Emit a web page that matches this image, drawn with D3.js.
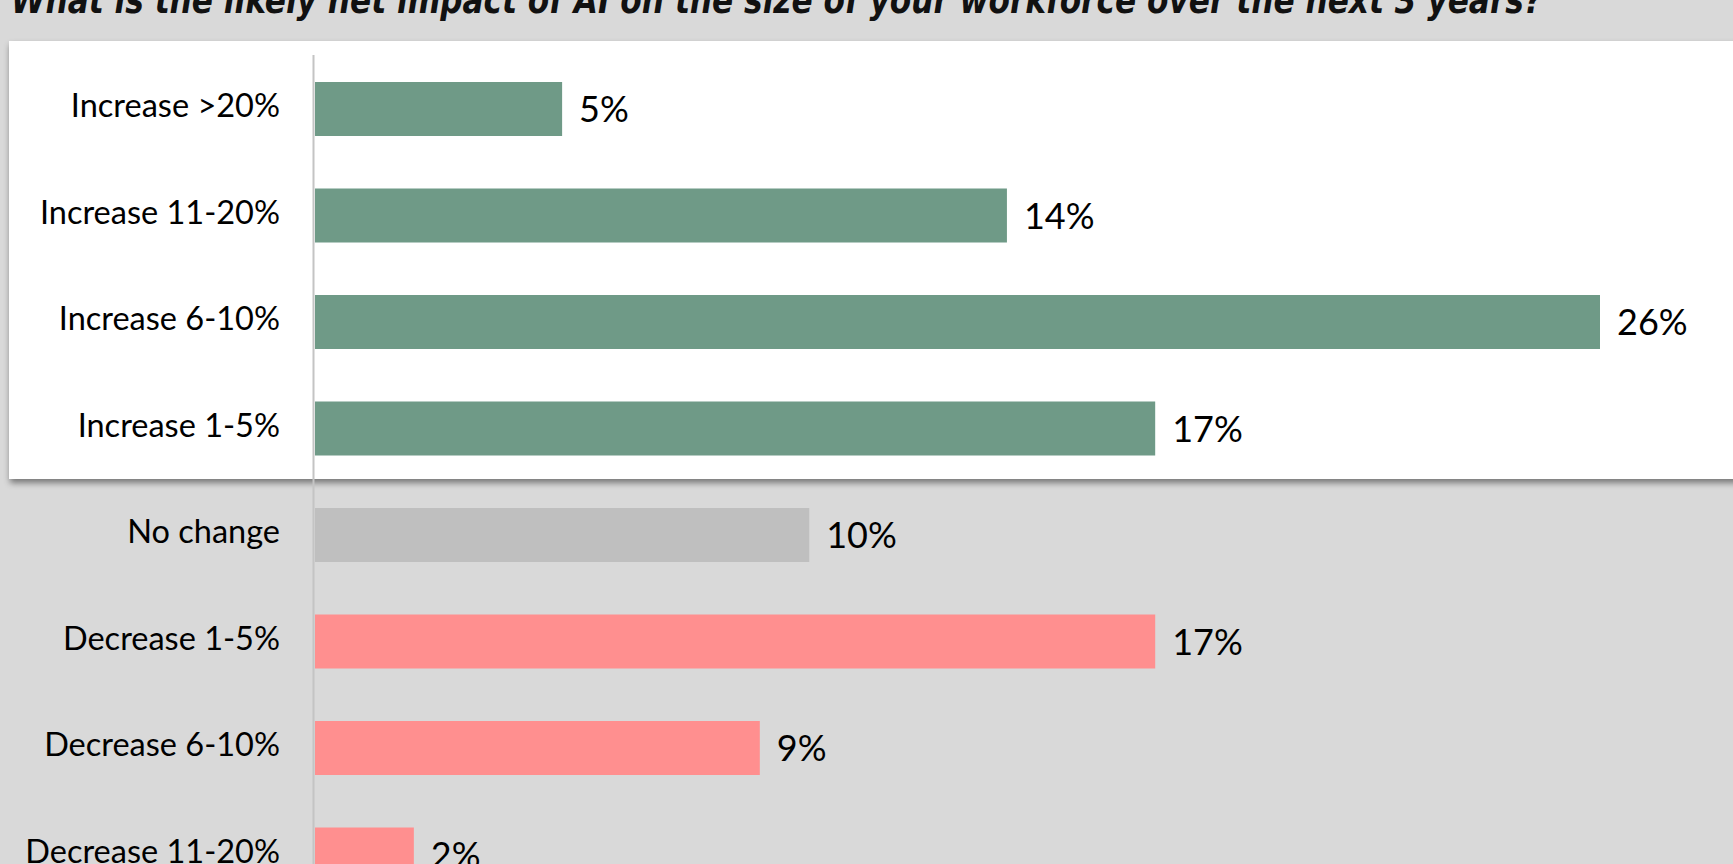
<!DOCTYPE html>
<html>
<head>
<meta charset="utf-8">
<script src="https://cdn.jsdelivr.net/npm/d3@7"></script>
<style>
  html, body { margin: 0; padding: 0; background: #D9D9D9; overflow: hidden; }
  svg { display: block; }
</style>
</head>
<body>
<svg id="chart" width="1733" height="864"></svg>
<script>
const titleText = "What is the likely net impact of AI on the size of your workforce over the next 3 years?";
const categories = ["Increase >20%", "Increase 11-20%", "Increase 6-10%", "Increase 1-5%",
                    "No change", "Decrease 1-5%", "Decrease 6-10%", "Decrease 11-20%"];
const values = [5, 14, 26, 17, 10, 17, 9, 2];
const groups = ["inc", "inc", "inc", "inc", "none", "dec", "dec", "dec"];

const colors = { inc: "#6F9A87", none: "#BFBFBF", dec: "#FF8F8F" };

const W = 1733, H = 864;
const svg = d3.select("#chart");

const defs = svg.append("defs");
const f = defs.append("filter").attr("id", "shadow")
  .attr("x", "-5%").attr("y", "-5%").attr("width", "110%").attr("height", "120%");
f.append("feDropShadow").attr("dx", 1).attr("dy", 4).attr("stdDeviation", 3)
  .attr("flood-color", "#000").attr("flood-opacity", 0.45);

// background
svg.append("rect").attr("x", 0).attr("y", 0).attr("width", W).attr("height", H).attr("fill", "#D9D9D9");

// white highlight box behind the increase rows
svg.append("rect").attr("x", 9).attr("y", 41).attr("width", W + 20).attr("height", 438)
  .attr("fill", "#FFFFFF").attr("filter", "url(#shadow)");

// title
svg.append("text")
  .attr("x", 11).attr("y", 13)
  .attr("textLength", 1531).attr("lengthAdjust", "spacingAndGlyphs")
  .style("font-family", "'DejaVu Sans Condensed', 'DejaVu Sans', sans-serif")
  .style("font-stretch", "condensed")
  .style("font-weight", "bold").style("font-style", "italic")
  .style("font-size", "38px").attr("fill", "#111")
  .text(titleText);

const step = 106.5;
const firstCenter = 109;
const y = d3.scaleBand().domain(categories)
  .range([firstCenter - step / 2, firstCenter - step / 2 + step * categories.length])
  .paddingInner(1 - 54 / step).paddingOuter((1 - 54 / step) / 2);

const x = d3.scaleLinear().domain([0, 26]).range([315, 1600]);

// axis line
svg.append("line").attr("x1", 313.5).attr("x2", 313.5).attr("y1", 55).attr("y2", H)
  .attr("stroke", "#C4C4C4").attr("stroke-width", 2);

const data = categories.map((c, i) => ({ c, v: values[i], g: groups[i] }));

svg.selectAll("rect.bar").data(data).enter().append("rect")
  .attr("class", "bar")
  .attr("x", x(0)).attr("y", d => y(d.c))
  .attr("width", d => x(d.v) - x(0)).attr("height", y.bandwidth())
  .attr("fill", d => colors[d.g]);

svg.selectAll("text.val").data(data).enter().append("text")
  .attr("class", "val")
  .attr("x", d => x(d.v) + 17)
  .attr("y", d => y(d.c) + y.bandwidth() / 2 + 13)
  .style("font-family", "Lato, 'Noto Sans', sans-serif")
  .style("font-size", "36px").attr("fill", "#000")
  .text(d => d.v + "%");

svg.selectAll("text.cat").data(data).enter().append("text")
  .attr("class", "cat")
  .attr("x", 280)
  .attr("y", d => y(d.c) + y.bandwidth() / 2 + 8)
  .attr("text-anchor", "end")
  .style("font-family", "Lato, 'Noto Sans', sans-serif")
  .style("font-size", "32.5px").attr("fill", "#000")
  .text(d => d.c);
</script>
</body>
</html>
